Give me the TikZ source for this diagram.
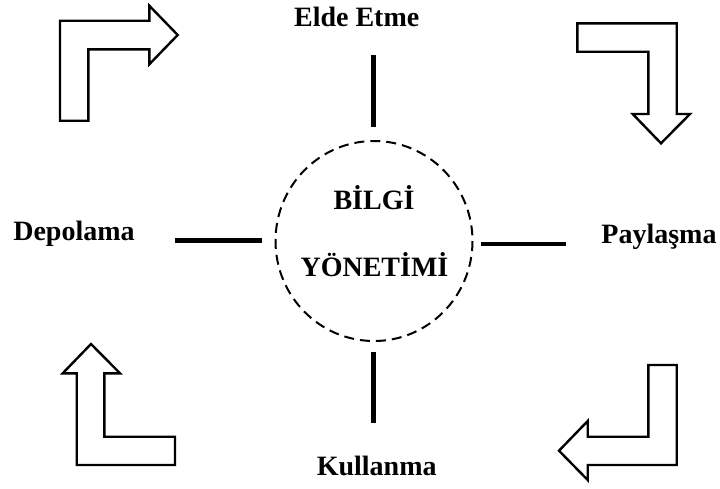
\documentclass[tikz,border=0pt]{standalone}
\usepackage{fontspec}
\setmainfont{Liberation Serif}
\begin{document}
\begin{tikzpicture}[x=1pt,y=-1pt,
  lbl/.style={font=\bfseries\fontsize{28}{31}\selectfont, anchor=base, inner sep=0pt},
  spoke/.style={line width=4.8pt},
  bentarrow/.style={line width=2.4pt, line join=miter, fill=white, draw=black},
  core/.style={draw, dashed, line width=2pt, dash pattern=on 10pt off 6pt}
]
\useasboundingbox (0,0) rectangle (720,488);

% central dashed circle and its two-line title
\draw[core] (374,241) ellipse [x radius=98.5, y radius=100];
\node[lbl] (bilgi) at (374,209.3) {BİLGİ};
\node[lbl] (yonetim) at (374.5,276.7) {YÖNETİMİ};

% the four stages
\node[lbl] (elde) at (356.7,26.7) {Elde Etme};
\node[lbl] (paylas) at (659,243.3) {Paylaşma};
\node[lbl] (kullan) at (376.7,475) {Kullanma};
\node[lbl] (depo) at (74,240) {Depolama};

% spoke end points
\coordinate (tA) at (373.3,55);   \coordinate (tB) at (373.3,126.7);
\coordinate (bA) at (373.3,351.7);\coordinate (bB) at (373.3,423.3);
\coordinate (lA) at (175,240.7);  \coordinate (lB) at (261.7,240.7);
\coordinate (rA) at (481,244);    \coordinate (rB) at (566,244);
\draw[spoke] (tA) -- (tB);
\draw[spoke] (bA) -- (bB);
\draw[spoke] (lA) -- (lB);
\draw[spoke] (rA) -- (rB);

% bent block arrows in the corners
\draw[bentarrow] (60,120.7) -- (60,20.7) -- (149.3,20.7) -- (149.3,5.7) -- (177.7,35)
  -- (149.3,64.3) -- (149.3,49.3) -- (88.3,49.3) -- (88.3,120.7) -- cycle;
\draw[bentarrow] (577.3,23.3) -- (676.7,23.3) -- (676.7,114) -- (690,114) -- (661,143.3)
  -- (632.7,114) -- (648.3,114) -- (648.3,51.7) -- (577.3,51.7) -- cycle;
\draw[bentarrow] (91,344) -- (120,373.3) -- (104.3,373.3) -- (104.3,436.7) -- (175,436.7)
  -- (175,465) -- (76.7,465) -- (76.7,373.3) -- (62.7,373.3) -- cycle;
\draw[bentarrow] (648.3,365) -- (676.7,365) -- (676.7,465) -- (587.7,465) -- (587.7,480)
  -- (559,450.7) -- (587.7,421) -- (587.7,436.7) -- (648.3,436.7) -- cycle;
\end{tikzpicture}
\end{document}
